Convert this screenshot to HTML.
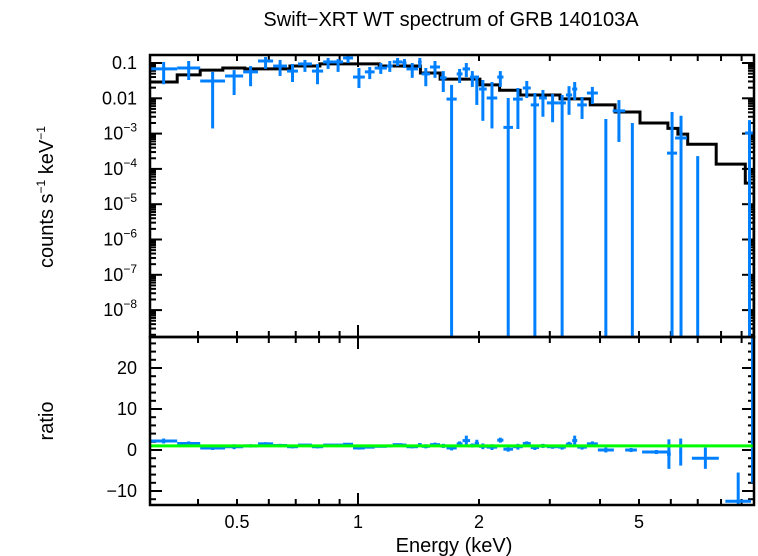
<!DOCTYPE html>
<html><head><meta charset="utf-8">
<style>
html,body{margin:0;padding:0;background:#fff;}
svg{display:block;font-family:"Liberation Sans",sans-serif;}
</style></head>
<body>
<svg id="chart" width="758" height="556" viewBox="0 0 758 556" xmlns="http://www.w3.org/2000/svg">
<defs>
<clipPath id="clipTop"><rect x="150" y="55" width="604" height="282"/></clipPath>
<clipPath id="clipBot"><rect x="150" y="337" width="604" height="168"/></clipPath>
</defs>
<text x="451" y="26" font-size="20" text-anchor="middle">Swift−XRT WT spectrum of GRB 140103A</text>
<text transform="translate(53,197) rotate(-90)" font-size="20" text-anchor="middle">counts s<tspan font-size="12" dy="-8">−1</tspan><tspan dy="8"> keV</tspan><tspan font-size="12" dy="-8">−1</tspan></text>
<text transform="translate(53,421) rotate(-90)" font-size="20" text-anchor="middle">ratio</text>
<text x="454" y="552" font-size="20" text-anchor="middle">Energy (keV)</text>
<g id="ticks"></g>
<g id="top" clip-path="url(#clipTop)"></g>
<g id="bot" clip-path="url(#clipBot)"></g>
<g id="labels"></g>
<rect x="150" y="55" width="604" height="282" fill="none" stroke="#000" stroke-width="2.5"/>
<rect x="150" y="337" width="604" height="168" fill="none" stroke="#000" stroke-width="2.5"/>
</svg>
<script>
// ---- data ----
const eLo = [0.304,0.355,0.405,0.467,0.518,0.564,0.615,0.666,0.709,0.768,0.819,0.867,0.918,0.972,1.04,1.10,1.18,1.22,1.29,1.32,1.41,1.44,1.51,1.60,1.66,1.76,1.82,1.90,1.95,2.00,2.09,2.22,2.30,2.43,2.57,2.69,2.82,2.95,3.15,3.29,3.41,3.51,3.71,3.95,4.30,4.69,5.87,6.15,6.90,9.18];
const eHi = [0.355,0.405,0.467,0.518,0.564,0.615,0.666,0.709,0.768,0.819,0.867,0.918,0.972,1.04,1.10,1.18,1.22,1.29,1.32,1.41,1.44,1.51,1.60,1.66,1.76,1.82,1.90,1.95,2.00,2.09,2.22,2.30,2.43,2.57,2.69,2.82,2.95,3.15,3.29,3.41,3.51,3.71,3.95,4.33,4.62,4.94,6.22,6.58,7.10,9.66];
const flux = [0.068,0.072,0.031,0.043,0.056,0.114,0.082,0.059,0.094,0.059,0.107,0.107,0.139,0.040,0.056,0.072,0.082,0.107,0.100,0.068,0.107,0.049,0.077,0.038,0.0095,0.049,0.068,0.040,0.040,0.0183,0.0102,0.040,0.0015,0.0095,0.0196,0.0065,0.0102,0.0074,0.0074,0.0124,0.0183,0.0065,0.0141,1e-10,0.0044,1e-10,0.00028,0.00075,1e-10,0.00104];
const fluxTop = [0.107,0.114,0.056,0.063,0.082,0.148,0.122,0.094,0.122,0.094,0.139,0.130,0.169,0.072,0.077,0.100,0.114,0.139,0.130,0.100,0.139,0.072,0.114,0.059,0.024,0.068,0.100,0.059,0.043,0.033,0.029,0.059,0.0102,0.0196,0.031,0.0141,0.0172,0.0132,0.0124,0.022,0.029,0.0109,0.021,0.0026,0.0089,0.0020,0.0041,0.0032,0.00023,0.0024];
const fluxBot = [0.025,0.033,0.0014,0.0124,0.022,0.068,0.043,0.029,0.056,0.025,0.068,0.056,0.100,0.0196,0.035,0.049,0.056,0.082,0.072,0.038,0.072,0.022,0.038,0.0151,1e-10,0.027,0.040,0.021,0.0065,0.0023,0.0014,0.021,1e-10,0.00135,0.0102,1e-10,0.0030,0.0021,1e-10,0.0034,0.0089,0.0026,0.0069,1e-10,0.00058,1e-10,1e-10,1e-10,1e-10,1e-10];
const modelEdges = [0.304,0.355,0.405,0.461,0.523,0.677,0.804,1.13,1.43,1.60,2.01,2.25,2.53,3.18,3.78,4.36,5.03,5.90,6.25,6.61,7.78,9.19,9.66];
const modelVals = [0.029,0.046,0.063,0.072,0.068,0.082,0.094,0.082,0.052,0.035,0.024,0.017,0.0124,0.0096,0.0065,0.0041,0.0020,0.0014,0.00097,0.0005,0.000137,0.0000397];
const rLo = [0.304,0.355,0.405,0.467,0.518,0.564,0.615,0.666,0.709,0.768,0.819,0.867,0.918,0.972,1.04,1.10,1.18,1.22,1.29,1.32,1.41,1.44,1.51,1.60,1.66,1.76,1.82,1.90,1.95,2.00,2.09,2.22,2.30,2.43,2.57,2.69,2.82,2.95,3.15,3.29,3.41,3.51,3.71,3.95,4.62,5.09,5.87,6.30,6.77,8.20,9.50];
const rHi = [0.355,0.405,0.467,0.518,0.564,0.615,0.666,0.709,0.768,0.819,0.867,0.918,0.972,1.04,1.10,1.18,1.22,1.29,1.32,1.41,1.44,1.51,1.60,1.66,1.76,1.82,1.90,1.95,2.00,2.09,2.22,2.30,2.43,2.57,2.69,2.82,2.95,3.15,3.29,3.41,3.51,3.71,3.95,4.33,4.94,5.99,6.00,6.40,7.90,9.50,9.66];
const ratio = [2.2,1.6,0.5,0.8,1.0,1.5,1.1,0.8,1.2,0.8,1.2,1.2,1.4,0.5,0.7,0.9,1.0,1.3,1.2,0.8,1.3,0.9,1.3,1.0,0.5,1.5,2.3,1.1,1.6,0.9,0.7,2.4,0.2,0.8,1.6,0.6,1.0,0.8,0.7,1.4,2.3,0.7,1.5,0.0,0.0,-0.5,-1.0,-0.5,-2.0,-12.5,10];
const ratioErr = [0.6,0.5,0.5,0.6,0.4,0.4,0.4,0.4,0.3,0.4,0.3,0.3,0.3,0.4,0.3,0.3,0.3,0.3,0.3,0.4,0.4,0.5,0.5,0.5,0.6,0.6,1.2,0.5,0.9,0.7,0.7,0.6,0.6,0.7,0.5,0.6,0.5,0.5,0.6,0.6,1.2,0.6,0.6,0.6,0.5,0.5,3.6,3.3,2.6,7,18];
const yMainTicks = [0.1,0.01,1e-3,1e-4,1e-5,1e-6,1e-7,1e-8];
const yMainLabels = ["0.1","0.01","10|−3","10|−4","10|−5","10|−6","10|−7","10|−8"];
const yRatioTicks = [-10,0,10,20];
const xTickVals = [0.5,1,2,5];
const xTickLabels = ["0.5","1","2","5"];

// ---- axes ----
const xs = e => 358 + 402*Math.log10(e);
const ys = f => 63 - 35.3*(Math.log10(f)+1);
const yr = r => 450 - 4.1*r;
const NS = "http://www.w3.org/2000/svg";
function mk(tag, attrs, parent){const el=document.createElementNS(NS,tag);for(const k in attrs)el.setAttribute(k,attrs[k]);parent.appendChild(el);return el;}
const gT=document.getElementById('top'), gB=document.getElementById('bot'), gK=document.getElementById('ticks'), gL=document.getElementById('labels');
const blue="#0080ff";

let d="";
for(let i=0;i<modelVals.length;i++){
  const x0=xs(modelEdges[i]),x1=xs(modelEdges[i+1]),y=ys(modelVals[i]);
  d += (i===0?"M":"L")+x0.toFixed(1)+","+y.toFixed(1)+" L"+x1.toFixed(1)+","+y.toFixed(1)+" ";
}
d += "L"+xs(modelEdges[modelEdges.length-1]).toFixed(1)+",340";
const model=mk('path',{d:d,fill:'none',stroke:'#000','stroke-width':3},gT);



for(let i=0;i<flux.length;i++){
  const g=mk('g',{stroke:blue,'stroke-width':3},gT);
  
  
  const xc=xs(Math.sqrt(eLo[i]*eHi[i])), y=ys(flux[i]);
  mk('line',{x1:xs(eLo[i]),x2:xs(eHi[i]),y1:y,y2:y},g);
  mk('line',{x1:xc,x2:xc,y1:ys(fluxTop[i]),y2:Math.min(ys(fluxBot[i]),345)},g);
}

for(let i=0;i<ratio.length;i++){
  const g=mk('g',{stroke:blue,'stroke-width':3},gB);
  
  
  const xc=xs(Math.sqrt(rLo[i]*rHi[i])), y=yr(ratio[i]);
  mk('line',{x1:xs(rLo[i]),x2:xs(rHi[i]),y1:y,y2:y},g);
  mk('line',{x1:xc,x2:xc,y1:yr(ratio[i]+ratioErr[i]),y2:yr(ratio[i]-ratioErr[i])},g);
}
const gl=mk('line',{x1:150,x2:754,y1:yr(1),y2:yr(1),stroke:'#00ff00','stroke-width':3},gB);



function tick(x1,y1,x2,y2){mk('line',{x1:x1,y1:y1,x2:x2,y2:y2,stroke:'#000','stroke-width':2},gK);}
for(let p=-9;p<=0;p++){
  for(let m=1;m<10;m++){
    const v=m*Math.pow(10,p), y=ys(v);
    if(y<55||y>337) continue;
    const L = m===1?12:6;
    tick(150,y,150+L,y); tick(754,y,754-L,y);
  }
}
for(let r=-12;r<=26;r+=2){
  const y=yr(r); if(y<337||y>505) continue;
  const L = r%10===0?12:6;
  tick(150,y,150+L,y); tick(754,y,754-L,y);
}
for(const dec of [0.1,1]){
  for(let m=1;m<10;m++){
    const e=m*dec; const x=xs(e); if(x<150||x>754) continue;
    const L = m===1?12:6;
    tick(x,55,x,55+L); tick(x,505,x,505-L);
    tick(x,337,x,337-L); tick(x,337,x,337+L);
  }
}
yMainTicks.forEach((v,i)=>{
  const parts=yMainLabels[i].split('|');
  const t=mk('text',{x:137,y:ys(v)+6,'font-size':18,'text-anchor':'end'},gL);
  
  
  if(parts.length===1){t.textContent=parts[0];}
  else{
    mk('tspan',{},t).textContent=parts[0];
    mk('tspan',{'font-size':12,dy:-8},t).textContent=parts[1];
  }
});
yRatioTicks.forEach(v=>{
  const t=mk('text',{x:137,y:yr(v)+6,'font-size':18,'text-anchor':'end'},gL);
  
  
  t.textContent=(v<0?'−'+Math.abs(v):String(v));
});
xTickVals.forEach((v,i)=>{
  const t=mk('text',{x:xs(v),y:528,'font-size':18,'text-anchor':'middle'},gL);
  
  
  t.textContent=xTickLabels[i];
});
</script>
</body></html>
